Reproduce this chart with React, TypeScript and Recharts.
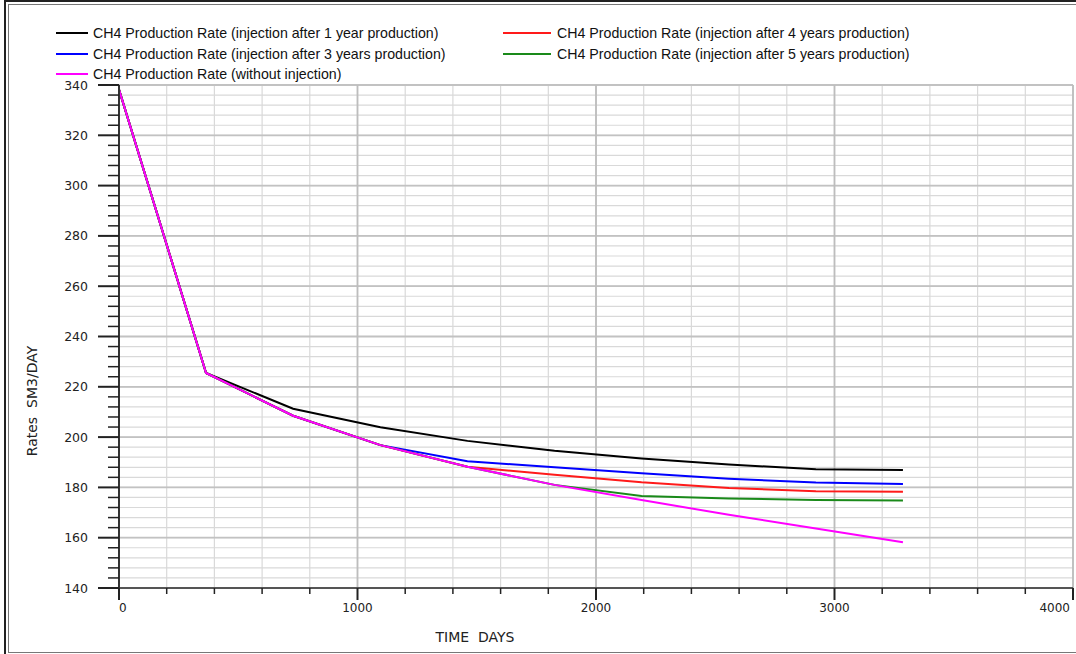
import React from "react";
import { LineChart, Line, XAxis, YAxis, CartesianGrid, ReferenceLine } from "recharts";

const days = [0, 365, 730, 1096, 1461, 1826, 2191, 2557, 2922, 3287];
const injAfter1 = [338.2, 225.5, 211.3, 203.9, 198.5, 194.6, 191.5, 189.1, 187.2, 186.9];
const injAfter4 = [338.2, 225.5, 208.5, 196.8, 188.2, 185.0, 182.0, 179.8, 178.5, 178.3];
const injAfter3 = [338.2, 225.5, 208.5, 196.8, 190.4, 188.0, 185.6, 183.4, 181.9, 181.4];
const injAfter5 = [338.2, 225.5, 208.5, 196.8, 188.2, 181.0, 176.6, 175.6, 175.0, 174.8];
const noInj = [338.2, 225.5, 208.5, 196.8, 188.2, 181.0, 175.0, 169.1, 163.7, 158.2];

const seriesKeys = ["a1", "a4", "a3", "a5", "none"];
const seriesNames = [
  "CH4 Production Rate (injection after 1 year production)",
  "CH4 Production Rate (injection after 4 years production)",
  "CH4 Production Rate (injection after 3 years production)",
  "CH4 Production Rate (injection after 5 years production)",
  "CH4 Production Rate (without injection)",
];
const seriesColors = ["#000000", "#ff1a1a", "#0000ff", "#1a8a1a", "#ff00ff"];
const drawOrder = [0, 2, 1, 3, 4];

const yTicks: number[] = [];
for (let v = 140; v <= 340; v += 4) yTicks.push(v);
const yMajor = [160, 180, 200, 220, 240, 260, 280, 300, 320, 340];
const xTicks: number[] = [];
for (let v = 0; v <= 4000; v += 200) xTicks.push(v);
const xMajor = [1000, 2000, 3000, 4000];

const data = days.map((d, i) => ({
  day: d,
  a1: injAfter1[i],
  a4: injAfter4[i],
  a3: injAfter3[i],
  a5: injAfter5[i],
  none: noInj[i],
}));

const tickFont = "'DejaVu Sans', Verdana, sans-serif";

const YTick = (props: any) => {
  const { x, y, payload } = props;
  const v = payload.value;
  const major = v % 20 === 0;
  return (
    <g>
      <line x1={x - (major ? 21 : 11)} x2={x} y1={y} y2={y} stroke="#222" strokeWidth={major ? 2 : 1.5} />
      {major && (
        <text x={x - 31} y={y + 4.5} textAnchor="end" fontSize={12.5} fontFamily={tickFont} fill="#222">
          {v}
        </text>
      )}
    </g>
  );
};

const XTick = (props: any) => {
  const { x, y, payload } = props;
  const v = payload.value;
  const major = v % 1000 === 0;
  let anchor: "start" | "middle" | "end" = "middle";
  let tx = x;
  if (v === 0) { anchor = "start"; tx = x; }
  if (v === 4000) { anchor = "end"; tx = x - 3; }
  return (
    <g>
      <line x1={x} x2={x} y1={y} y2={y + (major ? 12 : 6)} stroke="#222" strokeWidth={major ? 2 : 1.5} />
      {major && (
        <text x={tx} y={y + 24} textAnchor={anchor} fontSize={12} fontFamily={tickFont} fill="#222">
          {v}
        </text>
      )}
    </g>
  );
};

const legendRows = [
  { idx: 0, col: 0, row: 0 },
  { idx: 1, col: 1, row: 0 },
  { idx: 2, col: 0, row: 1 },
  { idx: 3, col: 1, row: 1 },
  { idx: 4, col: 0, row: 2 },
];

export default function App() {
  return (
    <div style={{ position: "absolute", left: 0, top: 0, width: 1076, height: 654, overflow: "hidden", background: "#fff" }}>
      <div style={{ position: "absolute", left: 4, top: 0, width: 2000, height: 700, borderTop: "2px solid #222", borderLeft: "2px solid #222" }} />
      <div style={{ position: "absolute", left: 8, top: 4, width: 2000, height: 647, border: "1px solid #777" }} />
      {legendRows.map((r) => {
        const lineX = r.col === 0 ? 56 : 503;
        const lineW = r.col === 0 ? 32 : 48;
        const textX = r.col === 0 ? 93 : 557;
        const cy = 33 + r.row * 20.5;
        return (
          <div key={r.idx}>
            <div style={{ position: "absolute", left: lineX, top: cy - 1, width: lineW, height: 2, background: seriesColors[r.idx] }} />
            <div
              style={{
                position: "absolute",
                left: textX,
                top: cy - 9,
                fontFamily: "'Liberation Sans', Arial, sans-serif",
                fontSize: 14.2,
                lineHeight: "18px",
                color: "#111",
                whiteSpace: "nowrap",
              }}
            >
              {seriesNames[r.idx]}
            </div>
          </div>
        );
      })}
      <div style={{ position: "absolute", left: 0, top: 0 }}>
        <LineChart width={1076} height={654} data={data} margin={{ top: 85, right: 3, bottom: 0, left: 19 }}>
          <CartesianGrid stroke="#d9d9d9" strokeWidth={1.2} />
          {yMajor.map((v) => (
            <ReferenceLine key={"y" + v} y={v} stroke="#c2c2c2" strokeWidth={1.8} />
          ))}
          {xMajor.map((v) => (
            <ReferenceLine key={"x" + v} x={v} stroke="#bdbdbd" strokeWidth={1.8} />
          ))}
          <XAxis
            dataKey="day"
            type="number"
            domain={[0, 4000]}
            ticks={xTicks}
            interval={0}
            tickSize={0}
            tickMargin={0}
            tickLine={false}
            height={66}
            axisLine={{ stroke: "#555", strokeWidth: 2 }}
            tick={<XTick />}
            allowDataOverflow
          />
          <YAxis
            type="number"
            domain={[140, 340]}
            ticks={yTicks}
            interval={0}
            tickSize={0}
            tickMargin={0}
            tickLine={false}
            width={100}
            axisLine={{ stroke: "#333", strokeWidth: 2 }}
            tick={<YTick />}
            allowDataOverflow
          />
          {drawOrder.map((i) => (
            <Line
              key={seriesKeys[i]}
              type="linear"
              dataKey={seriesKeys[i]}
              name={seriesNames[i]}
              stroke={seriesColors[i]}
              strokeWidth={2}
              dot={false}
              isAnimationActive={false}
            />
          ))}
        </LineChart>
      </div>
      <div
        style={{
          position: "absolute",
          left: 32,
          top: 401,
          transform: "translate(-50%, -50%) rotate(-90deg)",
          fontFamily: tickFont,
          fontSize: 14,
          color: "#222",
          whiteSpace: "pre",
        }}
      >
        {"Rates  SM3/DAY"}
      </div>
      <div
        style={{
          position: "absolute",
          left: 475,
          top: 637,
          transform: "translate(-50%, -50%)",
          fontFamily: tickFont,
          fontSize: 14,
          color: "#222",
          whiteSpace: "pre",
        }}
      >
        {"TIME  DAYS"}
      </div>
    </div>
  );
}
